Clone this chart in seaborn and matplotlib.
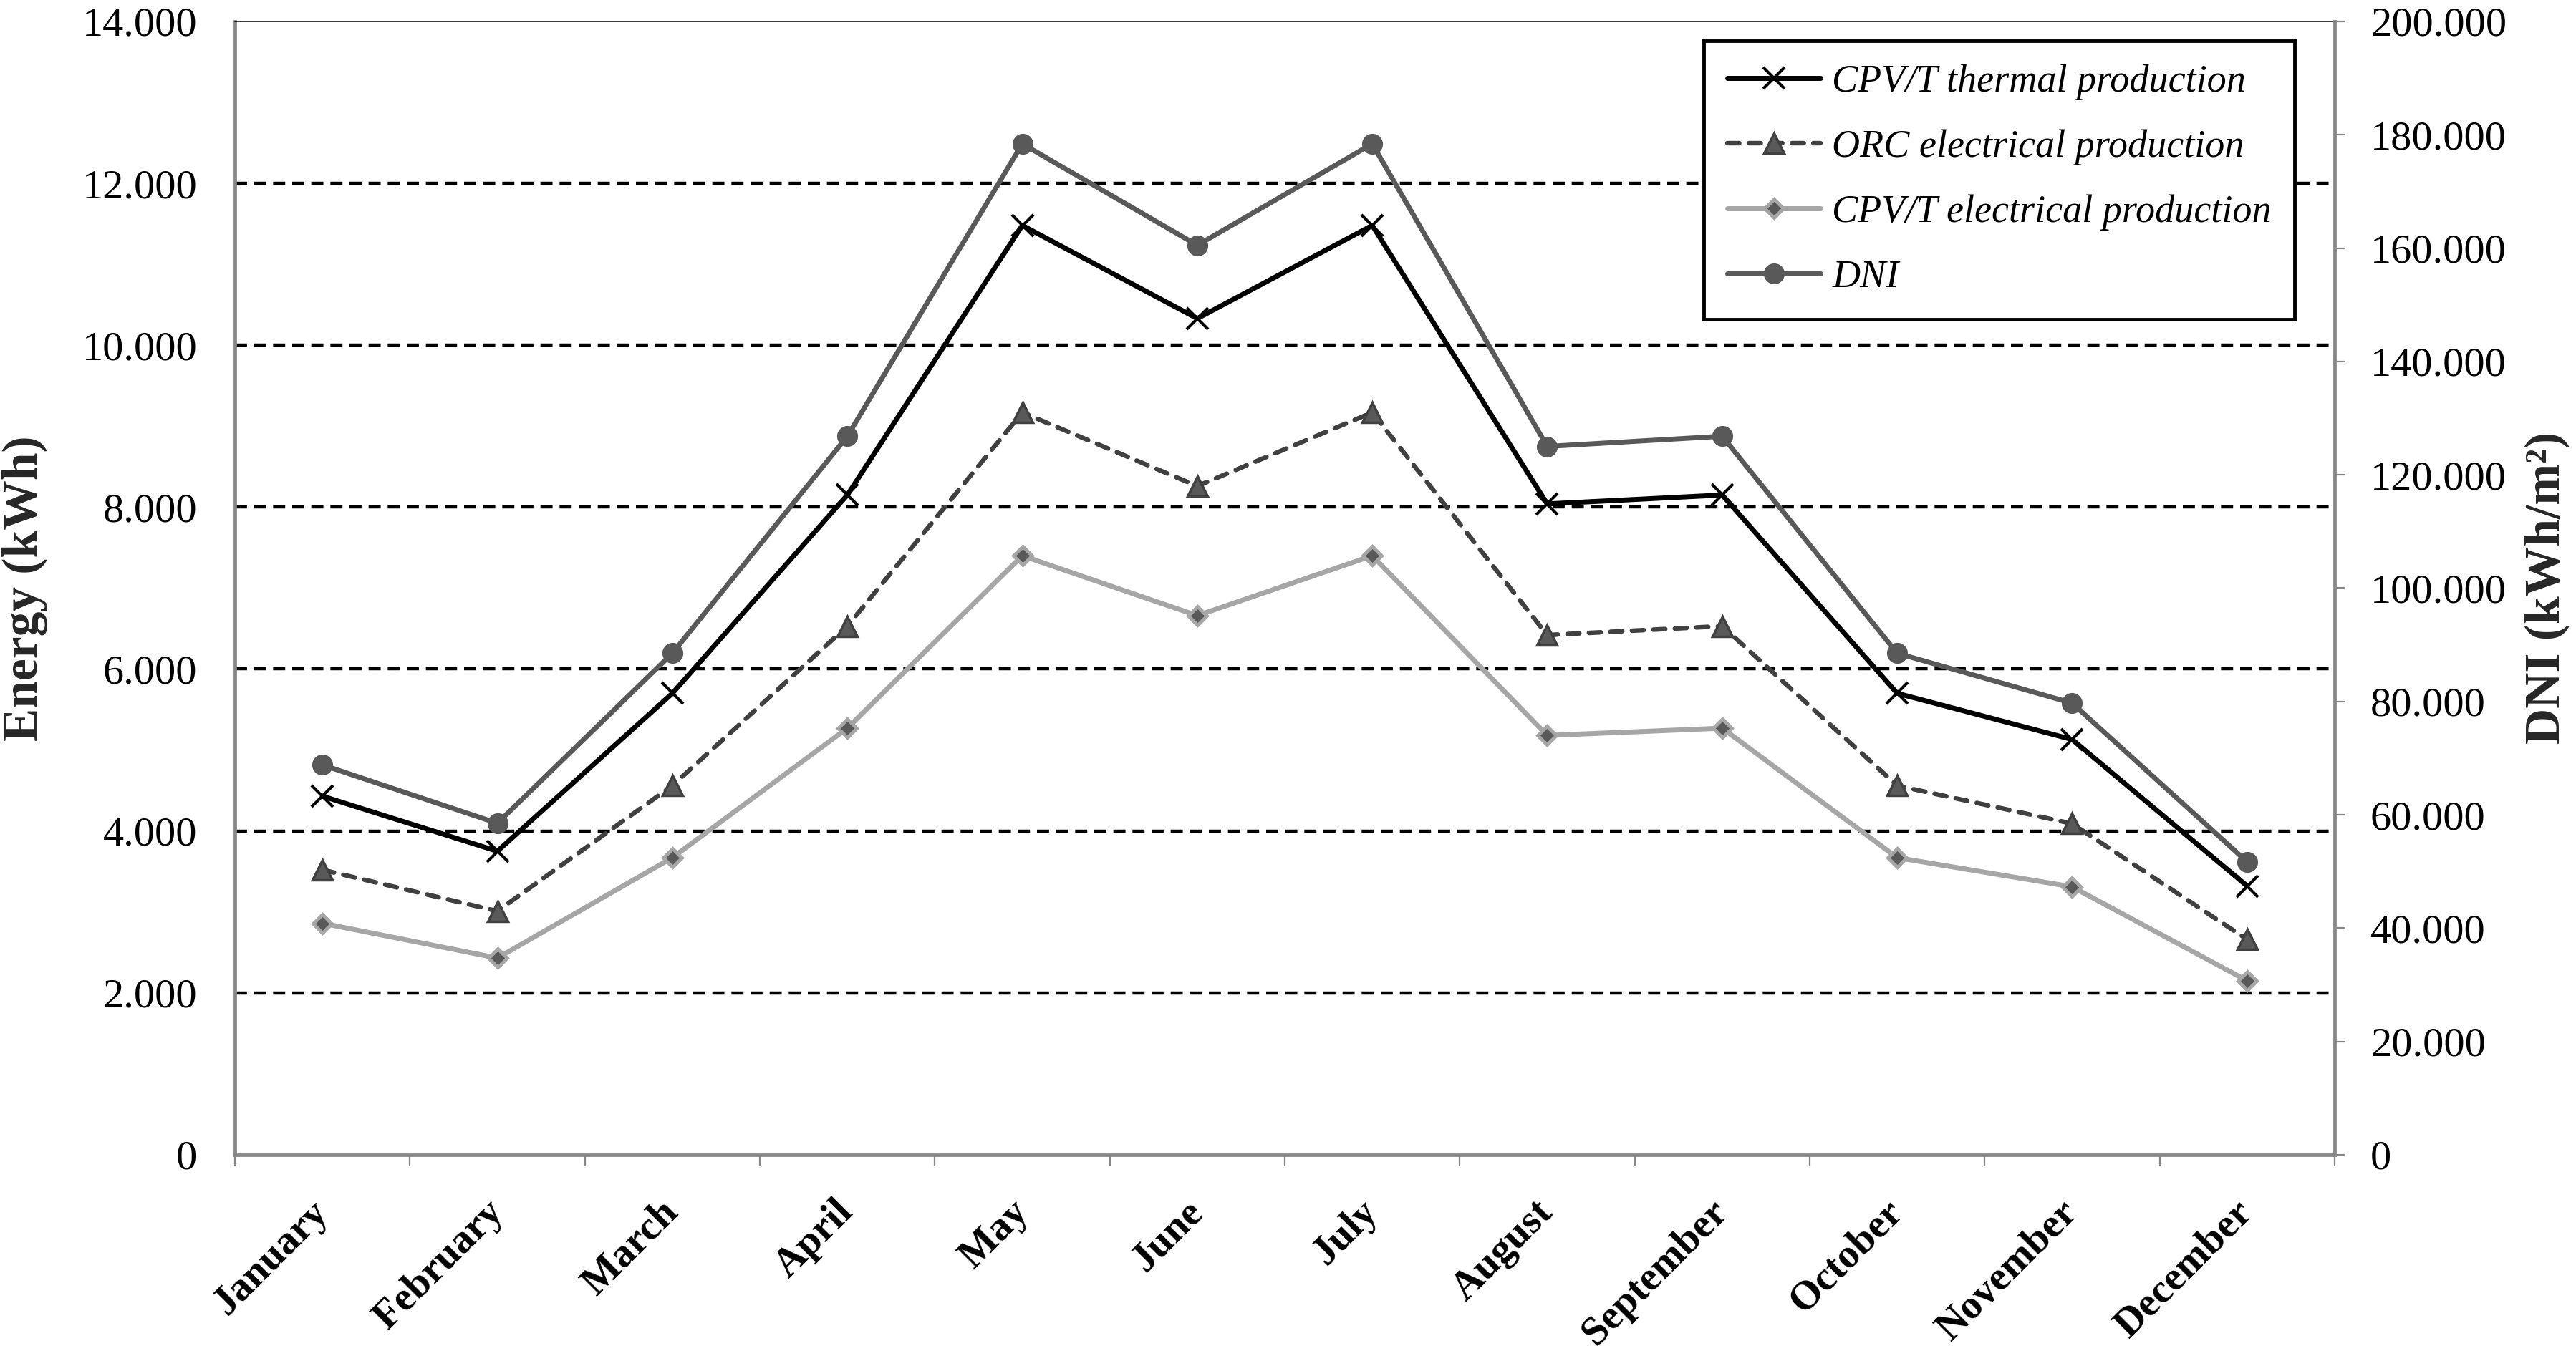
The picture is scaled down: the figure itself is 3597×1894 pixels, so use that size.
import numpy as np
import pandas as pd
import matplotlib
matplotlib.use("Agg")
import matplotlib.pyplot as plt
import seaborn as sns
from matplotlib.ticker import FuncFormatter

# ─── Data ─────────────────────────────────────────────────────────────────────
months = ["January", "February", "March", "April", "May", "June",
          "July", "August", "September", "October", "November", "December"]
thermal = [4430, 3750, 5700, 8150, 11480, 10330, 11480, 8040, 8150, 5700, 5130, 3320]
orc = [3520, 3010, 4560, 6530, 9170, 8260, 9170, 6420, 6530, 4560, 4090, 2660]
cpvt_elec = [2860, 2430, 3670, 5270, 7400, 6660, 7400, 5180, 5270, 3670, 3310, 2150]
dni = [68800, 58500, 88500, 126800, 178400, 160500, 178400, 125000, 126800, 88500, 79700, 51700]

energy_ticks = list(range(0, 14001, 2000))
dni_ticks = list(range(0, 200001, 20000))

# ─── Style ────────────────────────────────────────────────────────────────────
sns.set_style("white")
plt.rcParams["font.family"] = ["Liberation Serif", "DejaVu Serif"]
plt.rcParams["text.color"] = "black"

GRAY_AX = "#878787"

df = pd.DataFrame({
    "month": months,
    "pos": np.arange(len(months)),
    "thermal": thermal,
    "orc": orc,
    "cpvt_elec": cpvt_elec,
    "dni": dni,
})

fig = plt.figure(figsize=(35.97, 18.94), dpi=100)
ax = fig.add_axes([0.0912, 0.1484, 0.9063 - 0.0912, 0.9842 - 0.1484])
ax2 = ax.twinx()

# ─── Series ───────────────────────────────────────────────────────────────────
sns.lineplot(data=df, x="pos", y="thermal", ax=ax, color="black", linewidth=5.0,
             marker="x", markersize=21, markeredgewidth=3.0,
             markeredgecolor="black", label="CPV/T thermal production",
             legend=False)
sns.lineplot(data=df, x="pos", y="orc", ax=ax, color="#404040", linewidth=4.6,
             linestyle=(0, (2.6, 2.1)), dash_capstyle="round",
             marker="^", markersize=20, markerfacecolor="#595959",
             markeredgewidth=2.5, markeredgecolor="#404040",
             label="ORC electrical production", legend=False)
sns.lineplot(data=df, x="pos", y="cpvt_elec", ax=ax, color="#a6a6a6", linewidth=5.0,
             marker="D", markersize=13, markerfacecolor="#595959",
             markeredgewidth=3.5, markeredgecolor="#a6a6a6",
             label="CPV/T electrical production", legend=False)
sns.lineplot(data=df, x="pos", y="dni", ax=ax2, color="#595959", linewidth=5.0,
             marker="o", markersize=21, markerfacecolor="#595959",
             markeredgewidth=0, markeredgecolor="#595959",
             label="DNI", legend=False)

# ─── Axes: x ──────────────────────────────────────────────────────────────────
ax.set_xlim(-0.5, len(months) - 0.5)
ax.set_xticks(df["pos"])
ax.set_xticklabels(months, rotation=45, ha="right", va="center",
                   rotation_mode="anchor", fontsize=41, fontweight="bold")
ax.set_xticks(np.arange(-0.5, len(months), 1), minor=True)
ax.tick_params(axis="x", which="major", length=0, pad=52, labelcolor="black")
ax.tick_params(axis="x", which="minor", bottom=True, length=11.5, width=1.6,
               color=GRAY_AX, direction="out")
ax.set_xlabel("")

# ─── Axes: left y ─────────────────────────────────────────────────────────────
fmt = FuncFormatter(lambda v, p: f"{v:,.0f}".replace(",", "."))
ax.set_ylim(energy_ticks[0], energy_ticks[-1])
ax.set_yticks(energy_ticks)
ax.yaxis.set_major_formatter(fmt)
ax.tick_params(axis="y", length=0, pad=38, labelsize=42, labelcolor="black")
ax.set_ylabel("Energy (kWh)", fontsize=50, fontweight="bold")
ax.yaxis.set_label_coords(-0.089, 0.5)

ax.yaxis.grid(True, color="black", linewidth=3.2, linestyle=(0, (3.8, 2.2)))
gl = ax.yaxis.get_gridlines()
gl[0].set_visible(False)
gl[-1].set_visible(False)

# ─── Axes: right y ────────────────────────────────────────────────────────────
ax2.set_ylim(dni_ticks[0], dni_ticks[-1])
ax2.set_yticks(dni_ticks)
ax2.yaxis.set_major_formatter(fmt)
ax2.tick_params(axis="y", right=True, length=11, width=1.6, color=GRAY_AX,
                direction="out", pad=25, labelsize=42, labelcolor="black")
ax2.set_ylabel("DNI (kWh/m²)", fontsize=50, fontweight="bold", rotation=90)
ax2.yaxis.set_label_coords(1.09, 0.5)
ax2.grid(False)

# ─── Spines ───────────────────────────────────────────────────────────────────
for s in ["left", "bottom"]:
    ax.spines[s].set_color(GRAY_AX)
    ax.spines[s].set_linewidth(3.4)
ax.spines["top"].set_color("black")
ax.spines["top"].set_linewidth(1.1)
ax.spines["right"].set_visible(False)
for s in ["left", "bottom", "top"]:
    ax2.spines[s].set_visible(False)
ax2.spines["right"].set_color(GRAY_AX)
ax2.spines["right"].set_linewidth(3.4)

# ─── Legend ───────────────────────────────────────────────────────────────────
h1, l1 = ax.get_legend_handles_labels()
h2, l2 = ax2.get_legend_handles_labels()
leg = ax2.legend(h1 + h2, l1 + l2, loc="upper right",
                 bbox_to_anchor=(0.981, 0.983), borderaxespad=0,
                 frameon=True, fancybox=False, framealpha=1,
                 edgecolor="black", facecolor="white",
                 prop={"family": "Liberation Serif", "style": "italic", "size": 39},
                 handlelength=2.4, handletextpad=0.3, labelspacing=0.75,
                 borderpad=0.6)
leg.get_frame().set_linewidth(3.5)

plt.savefig("out.png", dpi=100)
plt.close()
